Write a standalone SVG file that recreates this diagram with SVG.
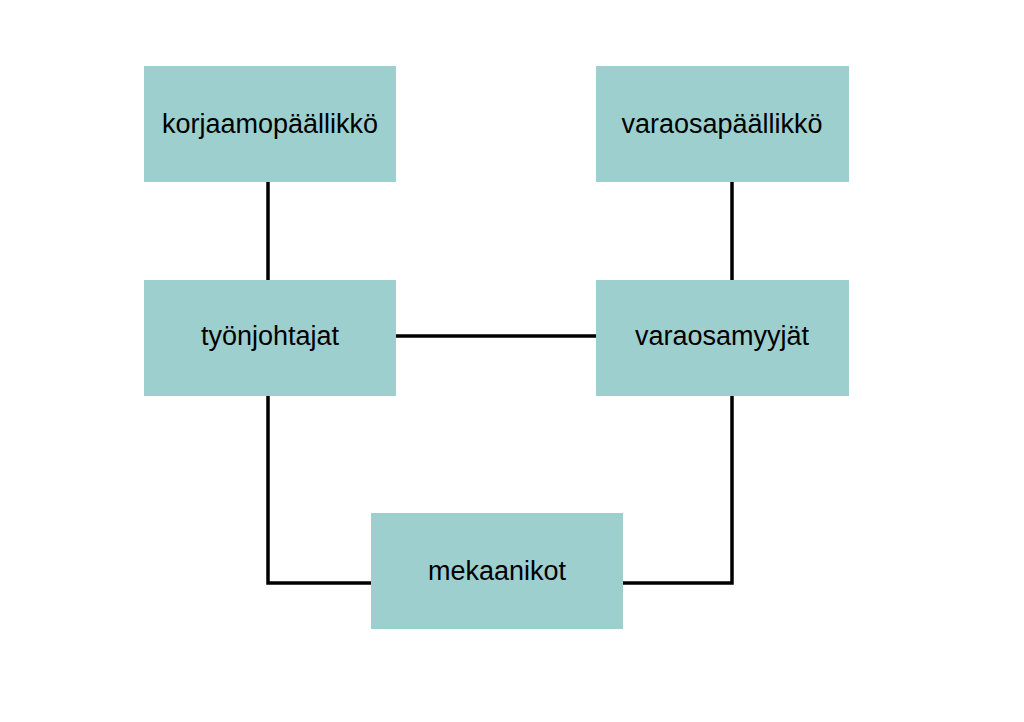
<svg xmlns="http://www.w3.org/2000/svg" width="1024" height="722" viewBox="0 0 1024 722">
<style>
.n{fill:#9ecfcf}
.t{font-family:"Liberation Sans",Arial,sans-serif;font-size:27px;fill:#000;text-anchor:middle;dominant-baseline:central}
.c{stroke:#000;stroke-width:3.5;fill:none}
</style>
<rect width="1024" height="722" fill="#fff"/>
<g id="connectors">
<path class="c" d="M268 182V280"/>
<path class="c" d="M732 182V280"/>
<path class="c" d="M396 336H596"/>
<path class="c" d="M268 396V583H371"/>
<path class="c" d="M732 396V583H623"/>
</g>
<g id="korjaamopaallikko"><rect class="n" x="144" y="66" width="252" height="116"/><text class="t" x="270" y="124">korjaamopäällikkö</text></g>
<g id="varaosapaallikko"><rect class="n" x="596" y="66" width="253" height="116"/><text class="t" x="722" y="124">varaosapäällikkö</text></g>
<g id="tyonjohtajat"><rect class="n" x="144" y="280" width="252" height="116"/><text class="t" x="270" y="336">työnjohtajat</text></g>
<g id="varaosamyyjat"><rect class="n" x="596" y="280" width="253" height="116"/><text class="t" x="722" y="336">varaosamyyjät</text></g>
<g id="mekaanikot"><rect class="n" x="371" y="513" width="252" height="116"/><text class="t" x="497" y="571">mekaanikot</text></g>
</svg>
